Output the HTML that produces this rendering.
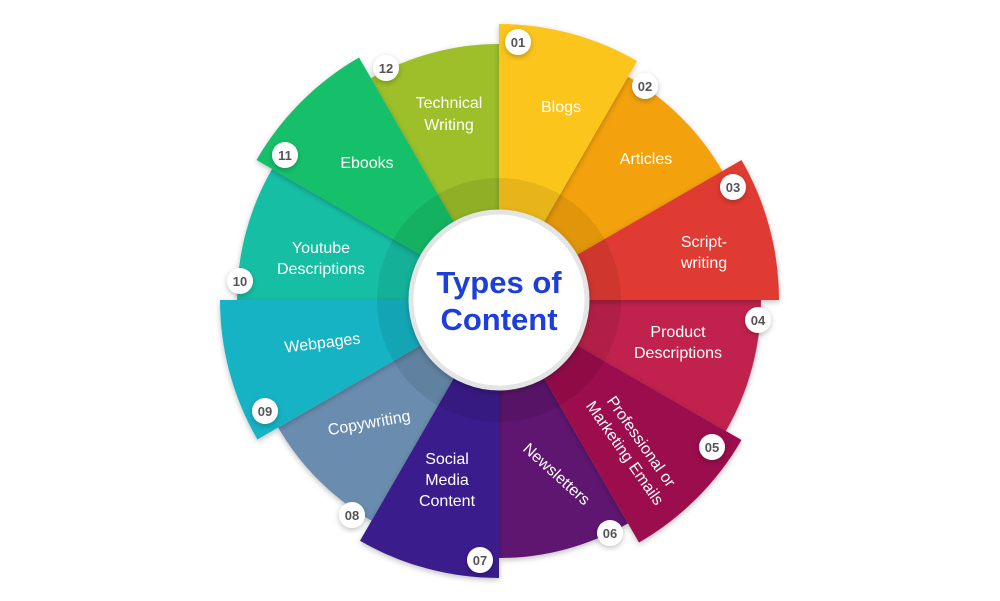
<!DOCTYPE html>
<html><head><meta charset="utf-8"><style>
html,body{margin:0;padding:0;background:#fff;}
svg{display:block}
text{font-family:"Liberation Sans",sans-serif;}
.l{fill:#fff;font-size:16px;text-anchor:middle;}
.n{fill:#555;font-size:13px;font-weight:bold;text-anchor:middle;}
</style></head><body>
<svg id="s" width="1000" height="601" viewBox="0 0 1000 601" xmlns="http://www.w3.org/2000/svg">
<defs>
<filter id="sh" x="-20%" y="-20%" width="140%" height="140%"><feDropShadow dx="0" dy="2" stdDeviation="3" flood-color="#000" flood-opacity="0.25"/></filter>
</defs>
<g id="w"></g>
<circle cx="499" cy="300" r="122" fill="#000" opacity="0.08"/>
<circle cx="499" cy="300" r="88" fill="#fff" stroke="#e4e4e4" stroke-width="5" filter="url(#sh)"/>
<text x="499" y="293" text-anchor="middle" font-size="31" font-weight="bold" fill="#1b3fd8">Types of</text>
<text x="499" y="330" text-anchor="middle" font-size="31" font-weight="bold" fill="#1b3fd8">Content</text>

<text class="l" x="449" y="108">Technical</text><text class="l" x="449" y="130">Writing</text>
<text class="l" x="561" y="112">Blogs</text>
<text class="l" x="646" y="164">Articles</text>
<text class="l" x="704" y="247">Script-</text><text class="l" x="704" y="268">writing</text>
<text class="l" x="678" y="337">Product</text><text class="l" x="678" y="358">Descriptions</text>
<g transform="translate(632,448) rotate(55)"><text class="l" x="0" y="-6">Professional or</text><text class="l" x="0" y="14">Marketing Emails</text></g>
<text class="l" transform="translate(553,478) rotate(42)" x="0" y="0">Newsletters</text>
<text class="l" x="447" y="464">Social</text><text class="l" x="447" y="485">Media</text><text class="l" x="447" y="506">Content</text>
<text class="l" transform="translate(370,428) rotate(-10)" x="0" y="0">Copywriting</text>
<text class="l" transform="translate(323,348) rotate(-7)" x="0" y="0">Webpages</text>
<text class="l" x="321" y="253">Youtube</text><text class="l" x="321" y="274">Descriptions</text>
<text class="l" x="367" y="168">Ebooks</text>
<g id="b"></g>
</svg>
<script>
var cx=499,cy=300;
var cols=["#FBC51A","#F3A20E","#E03A33","#C0244E","#9B0F4E","#5E1470","#3A1A8C","#6A8DAF","#17B3C4","#14BFA4","#12C06A","#9CBF2A"];
var rs=[276,258,280,262,280,258,278,255,279,262,280,256];
var bp=[[518,42],[645,86],[733,187],[758,320],[712,447],[610,533],[480,560],[352,515],[265,411],[240,281],[285,155],[386,68]];
var ns="http://www.w3.org/2000/svg",w=document.getElementById("w"),b=document.getElementById("b");
function pt(r,a){a=a*Math.PI/180;return (cx+r*Math.cos(a)).toFixed(1)+","+(cy+r*Math.sin(a)).toFixed(1);}
var order=[1,3,5,7,9,11,0,2,4,6,8,10];
order.forEach(function(i){
 var a1=-90+i*30,a2=a1+30,r=rs[i];
 var p=document.createElementNS(ns,"path");
 p.setAttribute("d","M"+cx+","+cy+" L"+pt(r,a1)+" A"+r+","+r+" 0 0 1 "+pt(r,a2)+" Z");
 p.setAttribute("fill",cols[i]);p.setAttribute("filter","url(#sh)");w.appendChild(p);
});
bp.forEach(function(q,i){
 var c=document.createElementNS(ns,"circle");c.setAttribute("cx",q[0]);c.setAttribute("cy",q[1]);c.setAttribute("r",13);
 c.setAttribute("fill","#fff");c.setAttribute("filter","url(#sh)");b.appendChild(c);
 var t=document.createElementNS(ns,"text");t.setAttribute("x",q[0]);t.setAttribute("y",q[1]+5);t.setAttribute("class","n");
 t.textContent=(i<9?"0":"")+(i+1);b.appendChild(t);
});
</script>
</body></html>
